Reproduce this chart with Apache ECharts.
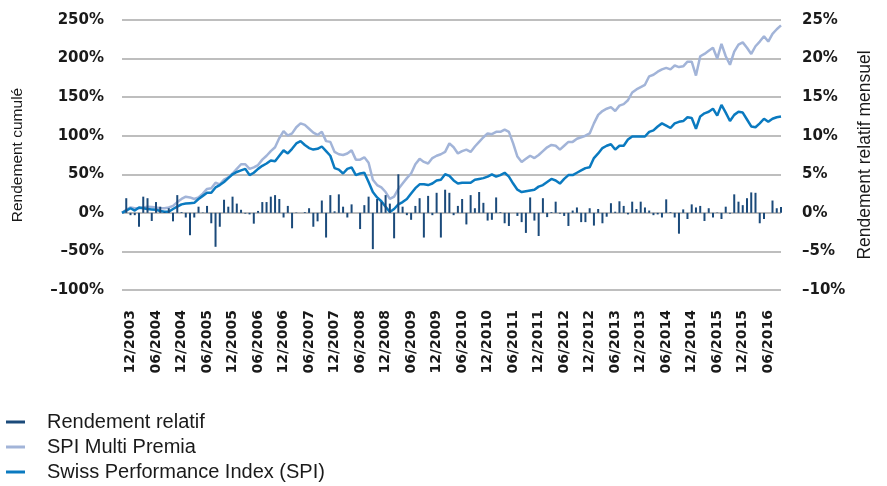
<!DOCTYPE html>
<html><head><meta charset="utf-8">
<script src="https://cdn.jsdelivr.net/npm/echarts@6/dist/echarts.min.js"></script>
<style>html,body{margin:0;padding:0;background:#fff}#c{width:887px;height:486px}</style>
</head><body><div id="c"></div>
<script>
// Monthly categories 10/2003 .. 09/2016
const startYear = 2003, startMonth = 10, monthCount = 156;
const months = [];
for (let k = 0; k < monthCount; k++) {
  const m = (startMonth - 1 + k) % 12 + 1;
  const y = startYear + Math.floor((startMonth - 1 + k) / 12);
  months.push((m < 10 ? '0' : '') + m + '/' + y);
}

// Rendement relatif mensuel (%), right axis
const relativeReturn = [
  0, 1.9, -0.3, -0.3, -1.8, 2.1, 1.9, -1.05, 1.4, 0.8,
  0.1, 0.6, -1.1, 2.3, 0.1, -0.6, -2.9, -0.6, 0.8, 0.05,
  0.9, -1.35, -4.4, -1.8, 1.7, 0.8, 2.1, 1.2, 0.4, -0.1,
  -0.2, -1.4, 0.25, 1.4, 1.4, 2.1, 2.3, 1.8, -0.6, 0.9,
  -2.0, 0.05, 0, 0.1, 0.6, -1.8, -1.1, 1.6, -3.2, 2.3,
  0.2, 2.4, 0.8, -0.6, 1.1, 0, -2.1, 1.0, 2.1, -4.7,
  1.8, 1.4, 2.3, 1.2, -3.3, 5.0, 0.8, -0.3, -0.9, 0.9,
  1.9, -3.2, 2.2, -0.3, 2.6, -3.2, 3.0, 2.6, -0.3, 0.9,
  1.8, -1.5, 2.3, 0.6, 2.7, 1.3, -1.0, -0.9, 2.0, 0.1,
  -1.35, -1.7, 0, -0.4, -1.2, -2.6, 2.0, -1.0, -3.0, 1.9,
  -0.55, 0.1, 1.45, -0.1, -0.4, -1.7, 0.3, 0.7, -1.2, -1.2,
  0.6, -1.65, 0.5, -1.35, -0.5, 1.25, 0.15, 1.5, 0.9, -0.2,
  1.45, 0.5, 1.45, 0.7, 0.3, -0.3, -0.2, -0.6, 1.75, 0.1,
  -0.6, -2.7, 0.45, -0.8, 1.1, 0.7, 0.9, -1.05, 0.6, -0.6,
  0.05, -0.8, 0.8, -0.1, 2.4, 1.45, 1.0, 1.9, 2.65, 2.6,
  -1.35, -0.8, 0, 1.6, 0.6, 0.75
];

// SPI Multi Premia cumulative return (%), left axis
const spiMultiPremia = [
  0, 4, 7, 6, 6, 7, 8, 7.5, 7, 6,
  6, 7, 9, 14, 18, 21, 20, 18, 20, 25,
  31, 32, 39, 37, 43, 46, 51, 57, 63, 63,
  57, 59, 62, 69, 74, 80, 85, 97, 106, 100,
  103, 111, 116, 114, 109, 104, 101, 105, 93, 92,
  79, 76, 75, 77, 81, 69, 69, 72, 65, 43,
  36, 33, 27, 18, 21, 31, 38, 45, 51, 63,
  70, 66, 64, 71, 74, 76, 79, 90, 85, 77,
  80, 82, 79, 86, 92, 98, 103, 102, 105, 105,
  108, 105, 90, 73, 66, 70, 74, 71, 75, 80,
  85, 88, 87, 82, 87, 92, 92, 96, 98, 100,
  103, 116, 127, 132, 135, 137, 132, 139, 141, 146,
  156, 160, 163, 166, 177, 179, 183, 186, 188, 186,
  191, 189, 190, 196, 196, 178, 203, 206, 210, 214,
  200, 219, 203, 192, 209, 218, 221, 214, 206, 216,
  222, 229, 222, 232, 238, 243
];

// Swiss Performance Index cumulative return (%), left axis
const spi = [
  0, 3, 6, 3, 7, 6, 5, 4.5, 4, 2.5,
  1.5, 1.5, 5, 8, 11, 12, 12.5, 13, 18, 22,
  26, 26, 33, 36, 40, 45, 50, 53, 55, 57,
  49, 52, 57, 61, 64, 68, 67, 74, 81, 77,
  83, 90, 93, 88, 84, 82, 83, 86, 80, 74,
  58, 56, 51, 57, 59, 49, 51, 52, 40, 27,
  20, 15, 8, 1, 5, 11, 14, 18, 25, 32,
  37, 37, 36, 38, 42, 43, 50, 48, 42, 38,
  39, 39, 39, 43, 44, 45, 47, 50, 47, 49,
  52, 47, 38, 30, 27, 28, 29, 30, 34, 36,
  40, 44, 42, 38, 44, 49, 49, 52, 55, 58,
  59, 71, 77, 84, 87, 89, 82, 87, 87, 95,
  99, 99, 99, 99, 105, 107, 112, 116, 113, 110,
  116, 118, 119, 124, 123, 109, 125, 129, 131, 135,
  126, 140, 130, 119, 127, 131, 130, 121, 112, 111,
  116, 122, 118, 122, 124, 125
];

const leftAxis = { min: -100, max: 250, step: 50 };
const rightAxis = { min: -10, max: 25, step: 5 };

const colRel = '#1b4a7a', colMP = '#a2b4d8', colSPI = '#0a7ac0';
const pct = v => (v < 0 ? '\u2013' + Math.abs(v) : v) + '%';

const chart = echarts.init(document.getElementById('c'), null, { renderer: 'canvas' });
chart.setOption({
  animation: false,
  backgroundColor: '#fff',
  grid: { left: 122, right: 106, top: 20, bottom: 196, containLabel: false },
  legend: {
    orient: 'vertical', left: 6, top: 412, itemGap: 5, padding: 0, height: 80,
    itemWidth: 19, itemHeight: 3, icon: 'rect',
    textStyle: { fontFamily: 'Liberation Sans', fontSize: 20, color: '#1a1a1a', lineHeight: 20, padding: [0, 0, 0, 17] },
    data: [
      { name: 'Rendement relatif', itemStyle: { color: colRel } },
      { name: 'SPI Multi Premia', itemStyle: { color: colMP } },
      { name: 'Swiss Performance Index (SPI)', itemStyle: { color: colSPI } }
    ]
  },
  xAxis: {
    type: 'category', data: months, boundaryGap: false,
    axisLine: { show: false }, axisTick: { show: false },
    axisLabel: {
      rotate: 90, margin: 20, color: '#1a1a1a',
      fontFamily: 'DejaVu Sans', fontWeight: 'bold', fontSize: 14,
      interval: (i, v) => v.startsWith('06/') || v.startsWith('12/')
    },
    splitLine: { show: false }
  },
  yAxis: [
    {
      type: 'value', min: leftAxis.min, max: leftAxis.max, interval: leftAxis.step,
      name: 'Rendement cumulé', nameLocation: 'middle', nameRotate: 90, nameGap: 96,
      nameTextStyle: { fontFamily: 'Liberation Sans', fontSize: 15.5, color: '#1a1a1a' },
      axisLine: { show: false }, axisTick: { show: false },
      axisLabel: { formatter: pct, margin: 18, color: '#1a1a1a', fontFamily: 'DejaVu Sans', fontWeight: 'bold', fontSize: 15 },
      splitLine: { lineStyle: { color: '#a8a8a8', width: 1.5 } }
    },
    {
      type: 'value', min: rightAxis.min, max: rightAxis.max, interval: rightAxis.step,
      name: 'Rendement relatif mensuel', nameLocation: 'middle', nameRotate: 90, nameGap: 74,
      nameTextStyle: { fontFamily: 'Liberation Sans', fontSize: 17.5, color: '#1a1a1a' },
      axisLine: { show: false }, axisTick: { show: false },
      axisLabel: { formatter: pct, margin: 21, color: '#1a1a1a', fontFamily: 'DejaVu Sans', fontWeight: 'bold', fontSize: 15 },
      splitLine: { show: false }
    }
  ],
  series: [
    { name: 'SPI Multi Premia', type: 'line', yAxisIndex: 0, data: spiMultiPremia, showSymbol: false,
      lineStyle: { color: colMP, width: 2.5 }, itemStyle: { color: colMP }, z: 2 },
    { name: 'Swiss Performance Index (SPI)', type: 'line', yAxisIndex: 0, data: spi, showSymbol: false,
      lineStyle: { color: colSPI, width: 2.5 }, itemStyle: { color: colSPI }, z: 3 },
    { name: 'Rendement relatif', type: 'bar', yAxisIndex: 1, data: relativeReturn, barWidth: 2,
      itemStyle: { color: colRel }, z: 4 }
  ]
});
</script></body></html>
